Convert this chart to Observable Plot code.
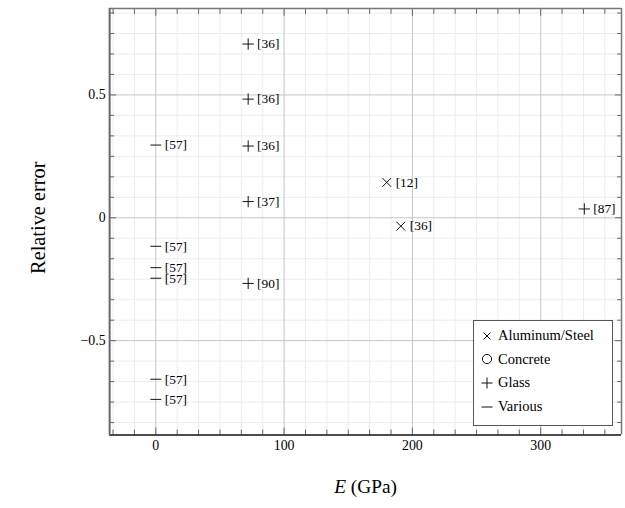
<!DOCTYPE html>
<html><head><meta charset="utf-8">
<script src="https://cdn.jsdelivr.net/npm/d3@7"></script>
<script src="https://cdn.jsdelivr.net/npm/@observablehq/plot@0.6"></script>
<style>
html,body{margin:0;padding:0;background:#fff;overflow:hidden}
#wrap{position:relative;width:625px;height:508px;overflow:hidden}
#legend{position:absolute;left:473px;top:320px;width:140px;height:106px;box-sizing:border-box;border:1px solid #555;background:#fff;font-family:"Liberation Serif",serif;font-size:14.5px;color:#000;padding-top:3px}
.row{height:23.6px;display:flex;align-items:center;white-space:nowrap}
.row svg{margin-left:7px;margin-right:5px;flex:none}
</style></head><body><div id="wrap"></div>
<script>
// ---- data ----
const material = ["Glass","Glass","Glass","Glass","Glass","Glass","Aluminum/Steel","Aluminum/Steel","Various","Various","Various","Various","Various","Various"];
const modulusE = [72, 72, 72, 72, 72, 334, 180, 191, 0, 0, 0, 0, 0, 0];
const relError = [0.707, 0.483, 0.292, 0.066, -0.267, 0.036, 0.144, -0.034, 0.296, -0.116, -0.203, -0.246, -0.657, -0.739];
const reference = ["[36]","[36]","[36]","[37]","[90]","[87]","[12]","[36]","[57]","[57]","[57]","[57]","[57]","[57]"];
const legendItems = ["Aluminum/Steel","Concrete","Glass","Various"];

// ---- axes ----
const xDomain = [-36, 363];
const yDomain = [-0.884, 0.852];
const xMajor = [0, 100, 200, 300];
const xMinor = [-200/6, -100/6, 100/6, 200/6, 300/6, 400/6, 500/6, 700/6, 800/6, 900/6, 1000/6, 1100/6,
  1300/6, 1400/6, 1500/6, 1600/6, 1700/6, 1900/6, 2000/6, 2100/6];
const yMajor = [-0.5, 0, 0.5];
const yMinor = [-10/12, -9/12, -8/12, -7/12, -5/12, -4/12, -3/12, -2/12, -1/12, 1/12, 2/12, 3/12, 4/12, 5/12, 7/12, 8/12, 9/12, 10/12];
const xTitle = "E (GPa)";
const yTitle = "Relative error";

const data = material.map((m, i) => ({material: m, E: modulusE[i], err: relError[i], ref: reference[i]}));

const dash = {draw(ctx) { ctx.moveTo(-5.5, 0); ctx.lineTo(5.5, 0); }};
const serif = "Liberation Serif, serif";
const tickColor = "#666";
const fmt = d => String(d).replace("-", "\u2212");
const noText = () => "";

const chart = Plot.plot({
  width: 630, height: 508,
  marginLeft: 110, marginRight: 4, marginTop: 8, marginBottom: 70,
  style: {fontFamily: serif, fontSize: "14px", color: "#000", background: "#fff"},
  x: {domain: xDomain, axis: null},
  y: {domain: yDomain, axis: null},
  marks: [
    Plot.ruleX(xMinor, {stroke: "#ececec"}),
    Plot.ruleY(yMinor, {stroke: "#ececec"}),
    Plot.ruleX(xMajor, {stroke: "#c4c4c4"}),
    Plot.ruleY(yMajor, {stroke: "#c4c4c4"}),
    // ticks (inward)
    Plot.axisX(xMinor, {anchor: "bottom", tickSize: -5, tickFormat: noText, label: null, stroke: tickColor}),
    Plot.axisX(xMinor, {anchor: "top", tickSize: -5, tickFormat: noText, label: null, stroke: tickColor}),
    Plot.axisX(xMajor, {anchor: "bottom", tickSize: -7, tickFormat: noText, label: null, stroke: tickColor}),
    Plot.axisX(xMajor, {anchor: "top", tickSize: -7, tickFormat: noText, label: null, stroke: tickColor}),
    Plot.axisY(yMinor, {anchor: "left", tickSize: -5, tickFormat: noText, label: null, stroke: tickColor}),
    Plot.axisY(yMinor, {anchor: "right", tickSize: -5, tickFormat: noText, label: null, stroke: tickColor}),
    Plot.axisY(yMajor, {anchor: "left", tickSize: -7, tickFormat: noText, label: null, stroke: tickColor}),
    Plot.axisY(yMajor, {anchor: "right", tickSize: -7, tickFormat: noText, label: null, stroke: tickColor}),
    // tick labels
    Plot.axisX(xMajor, {anchor: "bottom", tickSize: 0, tickPadding: 5, tickFormat: fmt, label: null, fill: "#000", fontSize: 14, fontFamily: serif}),
    Plot.axisY(yMajor, {anchor: "left", tickSize: 0, tickPadding: 4, tickFormat: fmt, label: null, fill: "#000", fontSize: 14, fontFamily: serif}),
    // frame
    Plot.ruleY([yDomain[1]], {stroke: "#777", strokeWidth: 1.5}),
    Plot.ruleX([xDomain[1]], {stroke: "#777", strokeWidth: 1.5}),
    Plot.ruleY([yDomain[0]], {stroke: "#111", strokeWidth: 1.5}),
    Plot.ruleX([xDomain[0]], {stroke: "#666", strokeWidth: 2}),
    // data
    Plot.dot(data.filter(d => d.material === "Glass"), {x: "E", y: "err", symbol: "plus", r: 3.75, stroke: "#111", strokeWidth: 1}),
    Plot.dot(data.filter(d => d.material === "Aluminum/Steel"), {x: "E", y: "err", symbol: "times", r: 4.1, stroke: "#111", strokeWidth: 1}),
    Plot.dot(data.filter(d => d.material === "Various"), {x: "E", y: "err", symbol: dash, stroke: "#111", fill: "none", strokeWidth: 1}),
    Plot.text(data, {x: "E", y: "err", text: "ref", dx: 9, textAnchor: "start", lineAnchor: "middle", fontSize: 13.5, fill: "#000", fontFamily: serif}),
    // axis titles
    Plot.text([xTitle], {frameAnchor: "bottom", dy: 52, textAnchor: "middle", lineAnchor: "middle", fontSize: 19.5, fontFamily: serif, fill: "#000"}),
    Plot.text([yTitle], {frameAnchor: "left", dx: -72, dy: -4, rotate: -90, textAnchor: "middle", lineAnchor: "middle", fontSize: 20.5, fontFamily: serif, fill: "#000"})
  ]
});

// italic E in the x title
d3.select(chart).selectAll("text").each(function() {
  if (this.textContent === xTitle) {
    const t = d3.select(this);
    t.text("");
    t.append("tspan").attr("font-style", "italic").text("E");
    t.append("tspan").text(" (GPa)");
  }
});

const wrap = document.getElementById("wrap");
wrap.appendChild(chart);

// legend
const icons = {
  "Aluminum/Steel": '<path d="M2.5,2.5L9.5,9.5M9.5,2.5L2.5,9.5" stroke="#111" stroke-width="1"/>',
  "Concrete": '<circle cx="6" cy="6" r="4.6" fill="none" stroke="#111" stroke-width="1"/>',
  "Glass": '<path d="M0.5,6H11.5M6,0.5V11.5" stroke="#111" stroke-width="1"/>',
  "Various": '<path d="M0.5,6H11.5" stroke="#111" stroke-width="1"/>'
};
const legend = document.createElement("div");
legend.id = "legend";
legend.innerHTML = legendItems.map(k => `<div class="row"><svg width="12" height="12" viewBox="0 0 12 12">${icons[k]}</svg><span>${k}</span></div>`).join("");
wrap.appendChild(legend);
</script></body></html>
